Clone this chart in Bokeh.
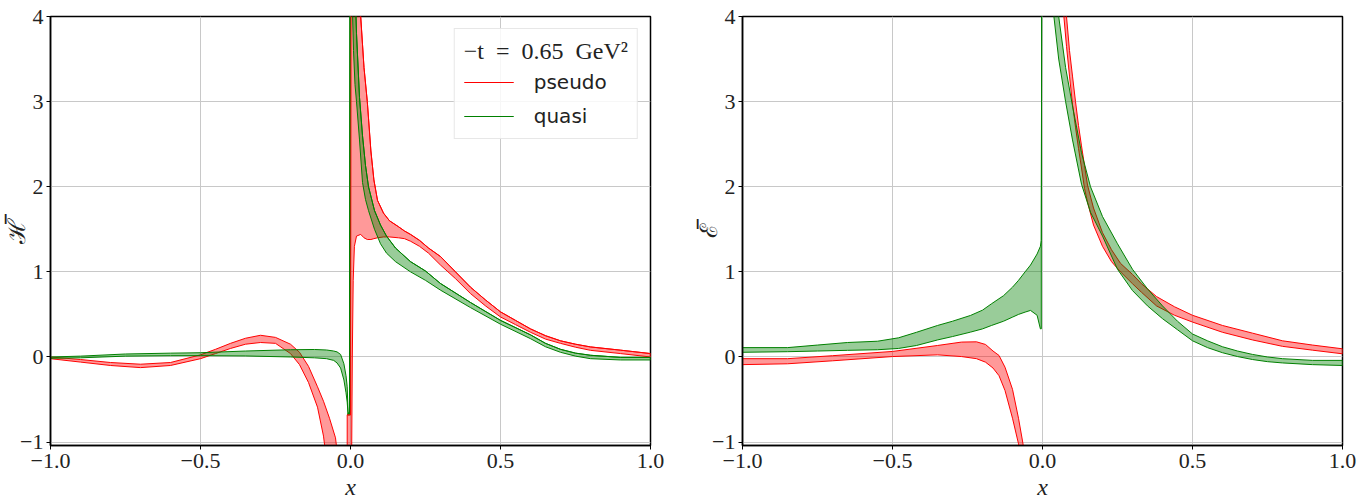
from bokeh.plotting import figure
from bokeh.layouts import row
from bokeh.models import Range1d, FixedTicker, Legend, LegendItem
from bokeh.embed import file_html
from bokeh.resources import INLINE

# ---------------- data: left panel (H) ----------------
h_pseudo_neg_x = [-1.0, -0.9, -0.8, -0.7, -0.6, -0.5, -0.45, -0.4, -0.35, -0.3, -0.25, -0.2, -0.17, -0.14, -0.11, -0.09, -0.07, -0.05, -0.035]
h_pseudo_neg_hi = [0.0, -0.03, -0.065, -0.085, -0.065, 0.025, 0.09, 0.16, 0.22, 0.255, 0.23, 0.15, 0.055, -0.11, -0.35, -0.52, -0.72, -0.95, -1.4]
h_pseudo_neg_lo = [-0.02, -0.06, -0.1, -0.125, -0.1, -0.02, 0.04, 0.1, 0.15, 0.17, 0.16, 0.04, -0.09, -0.3, -0.59, -0.93, -1.5, -2.0, -2.5]

h_pseudo_pos_x = [-0.011, 0.0, 0.002, 0.003, 0.006, 0.009, 0.013, 0.02, 0.034, 0.045, 0.056, 0.068, 0.078, 0.09, 0.11, 0.13, 0.16, 0.18, 0.2, 0.23, 0.26, 0.3, 0.35, 0.4, 0.45, 0.5, 0.55, 0.6, 0.65, 0.7, 0.75, 0.8, 0.9, 1.0]
h_pseudo_pos_hi = [-0.68, -0.68, 8.0, 8.0, 8.0, 8.0, 8.0, 6.5, 4.0, 3.4, 3.0, 2.42, 2.08, 1.84, 1.69, 1.6, 1.53, 1.48, 1.44, 1.37, 1.28, 1.18, 1.0, 0.82, 0.67, 0.53, 0.43, 0.33, 0.25, 0.19, 0.15, 0.118, 0.08, 0.04]
h_pseudo_pos_lo = [-1.6, -1.6, -1.6, -1.6, 0.0, 0.9, 1.3, 1.42, 1.44, 1.4, 1.38, 1.38, 1.39, 1.4, 1.41, 1.41, 1.4, 1.39, 1.36, 1.3, 1.22, 1.08, 0.92, 0.745, 0.6, 0.47, 0.38, 0.29, 0.21, 0.16, 0.115, 0.078, 0.04, 0.0]

h_quasi_neg_x = [-1.0, -0.9, -0.75, -0.6, -0.5, -0.35, -0.2, -0.12, -0.08, -0.056, -0.045, -0.033, -0.022, -0.015, -0.011, -0.008]
h_quasi_neg_hi = [0.0, 0.01, 0.035, 0.045, 0.05, 0.07, 0.085, 0.088, 0.082, 0.07, 0.06, 0.03, -0.08, -0.22, -0.35, -0.66]
h_quasi_neg_lo = [-0.015, -0.01, 0.01, 0.015, 0.016, 0.012, 0.0, -0.01, -0.02, -0.04, -0.07, -0.13, -0.27, -0.42, -0.53, -0.68]

h_quasi_pos_x = [-0.008, -0.003, 0.0, 0.007, 0.01, 0.015, 0.02, 0.03, 0.04, 0.05, 0.06, 0.08, 0.1, 0.12, 0.15, 0.2, 0.25, 0.3, 0.4, 0.5, 0.6, 0.65, 0.7, 0.75, 0.8, 0.9, 1.0]
h_quasi_pos_hi = [-0.66, -0.66, 10.0, 6.0, 5.2, 4.4, 3.8, 3.05, 2.6, 2.25, 2.0, 1.72, 1.55, 1.42, 1.28, 1.12, 1.01, 0.863, 0.64, 0.43, 0.26, 0.16, 0.09, 0.045, 0.02, -0.005, -0.005]
h_quasi_pos_lo = [-0.68, -0.68, 8.0, 4.0, 3.6, 3.2, 3.0, 2.55, 2.05, 1.85, 1.72, 1.5, 1.33, 1.22, 1.12, 1.0, 0.9, 0.785, 0.58, 0.385, 0.215, 0.12, 0.055, 0.01, -0.02, -0.035, -0.035]

# ---------------- data: right panel (E) ----------------
e_pseudo_neg_x = [-1.0, -0.85, -0.7, -0.5, -0.35, -0.27, -0.22, -0.19, -0.165, -0.145, -0.125, -0.1, -0.08, -0.065, -0.05]
e_pseudo_neg_hi = [-0.02, -0.02, 0.015, 0.065, 0.135, 0.175, 0.178, 0.147, 0.07, 0.018, -0.12, -0.38, -0.72, -1.02, -1.5]
e_pseudo_neg_lo = [-0.09, -0.08, -0.045, 0.005, 0.025, 0.005, -0.02, -0.061, -0.13, -0.22, -0.394, -0.72, -1.02, -1.4, -2.0]

e_pseudo_pos_x = [0.05, 0.06, 0.07, 0.08, 0.09, 0.1, 0.11, 0.12, 0.13, 0.14, 0.15, 0.17, 0.2, 0.23, 0.26, 0.3, 0.33, 0.38, 0.44, 0.5, 0.6, 0.7, 0.8, 0.9, 1.0]
e_pseudo_pos_hi = [7.0, 5.6, 4.6, 4.0, 3.6, 3.3, 3.0, 2.72, 2.48, 2.25, 2.02, 1.75, 1.46, 1.26, 1.1, 0.97, 0.86, 0.71, 0.59, 0.49, 0.37, 0.28, 0.19, 0.14, 0.096]
e_pseudo_pos_lo = [6.2, 4.8, 4.05, 3.65, 3.3, 2.97, 2.7, 2.45, 2.22, 1.98, 1.82, 1.55, 1.3, 1.12, 1.0, 0.86, 0.76, 0.6, 0.49, 0.41, 0.29, 0.2, 0.125, 0.08, 0.037]

e_quasi_neg_x = [-1.0, -0.85, -0.75, -0.65, -0.55, -0.48, -0.42, -0.35, -0.3, -0.24, -0.2, -0.17, -0.13, -0.1, -0.08, -0.058, -0.04, -0.018, -0.007, -0.004]
e_quasi_neg_hi = [0.11, 0.11, 0.14, 0.17, 0.185, 0.225, 0.29, 0.37, 0.42, 0.488, 0.55, 0.625, 0.72, 0.82, 0.9, 1.0, 1.08, 1.21, 1.3, 1.37]
e_quasi_neg_lo = [0.055, 0.062, 0.07, 0.078, 0.085, 0.1, 0.135, 0.2, 0.24, 0.292, 0.33, 0.37, 0.42, 0.468, 0.5, 0.527, 0.547, 0.49, 0.33, 0.33]

e_quasi_pos_x = [-0.004, -0.002, 0.03, 0.038, 0.054, 0.077, 0.1, 0.13, 0.16, 0.2, 0.25, 0.3, 0.35, 0.4, 0.45, 0.5, 0.55, 0.6, 0.65, 0.7, 0.75, 0.8, 0.9, 1.0]
e_quasi_pos_hi = [1.37, 6.0, 6.0, 4.6, 4.0, 3.4, 2.95, 2.4, 2.0, 1.65, 1.33, 1.03, 0.8, 0.6, 0.42, 0.27, 0.19, 0.12, 0.07, 0.03, 0.0, -0.02, -0.04, -0.04]
e_quasi_pos_lo = [1.37, 6.0, 5.0, 4.0, 3.5, 3.0, 2.55, 2.03, 1.7, 1.42, 1.03, 0.78, 0.6, 0.45, 0.32, 0.19, 0.11, 0.05, 0.005, -0.03, -0.055, -0.07, -0.09, -0.1]

x_ticks = [-1.0, -0.5, 0.0, 0.5, 1.0]
x_tick_labels = ["\u22121.0", "\u22120.5", "0.0", "0.5", "1.0"]
y_ticks = [-1, 0, 1, 2, 3, 4]
y_tick_labels = ["\u22121", "0", "1", "2", "3", "4"]

RED = "#ff0000"
GREEN = "#008000"
SERIF = "Liberation Serif"


def band(p, xs, hi, lo, color):
    px = list(xs) + list(xs)[::-1]
    py = list(hi) + list(lo)[::-1]
    return p.patch(px, py, fill_color=color, fill_alpha=0.4,
                   line_color=color, line_width=1)


def make_fig(ylabel, left_border, right_border):
    p = figure(frame_width=600, frame_height=429,
               x_range=Range1d(-1.0, 1.0), y_range=Range1d(-1.04, 4.0),
               output_backend="svg", toolbar_location=None,
               min_border_left=left_border, min_border_right=right_border,
               min_border_top=16, min_border_bottom=5)
    p.background_fill_color = "white"
    p.outline_line_color = "black"
    p.outline_line_width = 1.5
    for ax in (p.xaxis[0], p.yaxis[0]):
        ax.axis_line_width = 1.5
        ax.axis_line_color = "black"
        ax.major_tick_in = 0
        ax.major_tick_out = 4
        ax.major_tick_line_width = 1
        ax.minor_tick_line_color = None
        ax.major_label_text_font = SERIF
        ax.major_label_text_font_size = "22px"
        ax.major_label_text_color = "#222222"
        ax.axis_label_text_font = SERIF
        ax.axis_label_text_font_style = "italic"
        ax.axis_label_text_font_size = "24px"
        ax.axis_label_text_color = "#222222"
    p.xaxis.ticker = FixedTicker(ticks=x_ticks)
    p.xaxis.major_label_overrides = dict(zip(x_ticks, x_tick_labels))
    p.yaxis.ticker = FixedTicker(ticks=y_ticks)
    p.yaxis.major_label_overrides = dict(zip(y_ticks, y_tick_labels))
    p.xaxis.axis_label = "x"
    p.xaxis.major_label_standoff = 4
    p.xaxis.axis_label_standoff = 3
    p.yaxis.axis_label = ylabel
    p.yaxis.axis_label_text_font_style = "normal"
    p.yaxis.major_label_standoff = 3
    p.yaxis.axis_label_standoff = -13
    p.xgrid.ticker = FixedTicker(ticks=x_ticks)
    p.ygrid.ticker = FixedTicker(ticks=y_ticks)
    p.grid.grid_line_color = "#c8c8c8"
    p.grid.grid_line_width = 1
    return p


# left panel
p1 = make_fig("\u210b\u0305", 50, 42)
band(p1, h_pseudo_neg_x, h_pseudo_neg_hi, h_pseudo_neg_lo, RED)
band(p1, h_pseudo_pos_x, h_pseudo_pos_hi, h_pseudo_pos_lo, RED)
band(p1, h_quasi_neg_x, h_quasi_neg_hi, h_quasi_neg_lo, GREEN)
band(p1, h_quasi_pos_x, h_quasi_pos_hi, h_quasi_pos_lo, GREEN)
# legend proxies: the band edge curves themselves
leg_red = p1.line(h_pseudo_pos_x, h_pseudo_pos_hi, line_color=RED, line_width=1)
leg_green = p1.line(h_quasi_pos_x, h_quasi_pos_hi, line_color=GREEN, line_width=1)
legend = Legend(items=[LegendItem(label="pseudo", renderers=[leg_red]),
                       LegendItem(label="quasi", renderers=[leg_green])],
                location="top_right", margin=12,
                title="\u2212t\u2002=\u20020.65\u2002GeV\u00b2")
legend.title_text_font = SERIF
legend.title_text_font_size = "24px"
legend.title_text_font_style = "normal"
legend.title_text_color = "#222222"
legend.title_standoff = 4
legend.label_text_font = "DejaVu Sans"
legend.label_text_font_size = "20px"
legend.label_text_color = "#222222"
legend.glyph_width = 50
legend.glyph_height = 26
legend.label_height = 26
legend.label_standoff = 20
legend.spacing = 8
legend.padding = 9
legend.border_line_color = "#d0d0d0"
legend.border_line_width = 1
legend.background_fill_alpha = 0.85
p1.add_layout(legend)

# right panel
p2 = make_fig("\u2130\u0305", 50, 15)
band(p2, e_pseudo_neg_x, e_pseudo_neg_hi, e_pseudo_neg_lo, RED)
band(p2, e_pseudo_pos_x, e_pseudo_pos_hi, e_pseudo_pos_lo, RED)
band(p2, e_quasi_neg_x, e_quasi_neg_hi, e_quasi_neg_lo, GREEN)
band(p2, e_quasi_pos_x, e_quasi_pos_hi, e_quasi_pos_lo, GREEN)

layout = row(p1, p2)
open("out.html", "w").write(file_html(layout, INLINE))
